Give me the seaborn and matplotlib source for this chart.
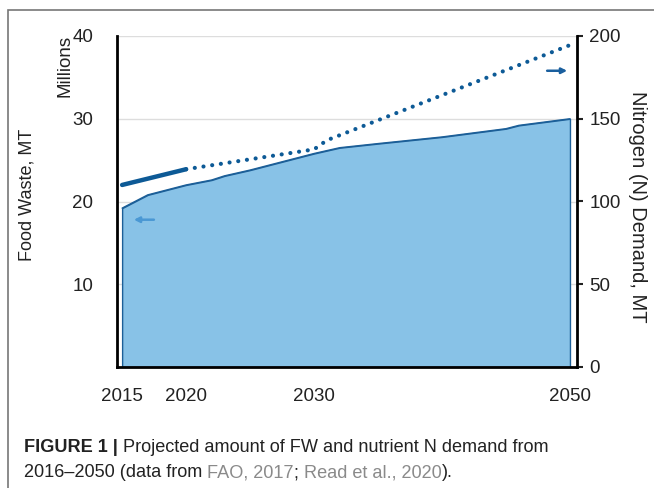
import matplotlib
matplotlib.use("Agg")
import matplotlib.pyplot as plt
import seaborn as sns
import pandas as pd
from matplotlib.patches import Rectangle

# data
fw_years = [2015, 2017, 2020, 2022, 2023, 2025, 2027, 2028, 2030, 2032, 2035, 2040, 2045, 2046, 2050]
fw_mt = [19.2, 20.8, 22.0, 22.6, 23.1, 23.8, 24.6, 25.0, 25.8, 26.5, 27.0, 27.8, 28.8, 29.2, 30.0]  # millions MT

n_hist_years = [2015, 2020]
n_hist = [110, 119.5]
n_proj_years = [2020, 2030, 2031, 2050]
n_proj = [119.5, 131.5, 137, 194.5]

x_ticks = [2015, 2020, 2030, 2050]
left_ticks = [10, 20, 30, 40]
right_ticks = [0, 50, 100, 150, 200]

fill_col = "#88c2e7"
edge_col = "#1c5f98"
line_col = "#0d5a96"
txt = "#222222"

sns.set_style("white")
plt.rcParams["font.family"] = ["Liberation Sans", "DejaVu Sans"]

fw = pd.DataFrame({"year": fw_years, "fw": fw_mt})
nh = pd.DataFrame({"year": n_hist_years, "n": n_hist})
npj = pd.DataFrame({"year": n_proj_years, "n": n_proj})

fig = plt.figure(figsize=(6.54, 4.88), dpi=100)
ax = fig.add_axes([117 / 654, 1 - 367 / 488, 460 / 654, 331 / 488])

# outer frame
fig.patches.append(Rectangle((8 / 654, -0.1), 1.2, 1 - 10 / 488 + 0.1, transform=fig.transFigure,
                             fill=False, edgecolor="#777777", linewidth=1.2))

for v in left_ticks:
    ax.axhline(v, color="#dddddd", linewidth=1, zorder=0)

ax.fill_between(fw["year"], 0, fw["fw"], color=fill_col, edgecolor=edge_col, linewidth=1.0, zorder=2)
sns.lineplot(data=fw, x="year", y="fw", ax=ax, color=edge_col, linewidth=1.0, zorder=3)

ax.set_xlim(2014.6, 2050.55)
ax.set_ylim(0, 40)
ax.set_yticks(left_ticks)
ax.set_xticks(x_ticks)
ax.tick_params(axis="both", length=0, labelsize=13.5, colors=txt)
ax.tick_params(axis="y", pad=17)
ax.tick_params(axis="x", pad=15)
ax.set_xlabel("")
ax.set_ylabel("")
for s in ["top", "right"]:
    ax.spines[s].set_visible(False)
for s in ["left", "bottom"]:
    ax.spines[s].set_color("black")
    ax.spines[s].set_linewidth(2)

ax2 = ax.twinx()
sns.lineplot(data=nh, x="year", y="n", ax=ax2, color=line_col, linewidth=3.2,
             solid_capstyle="round")
sns.lineplot(data=npj, x="year", y="n", ax=ax2, color=line_col, linewidth=3.0,
             linestyle=(0, (0.01, 2.1)), dash_capstyle="round")
ax2.set_ylim(0, 200)
ax2.set_yticks(right_ticks)
ax2.tick_params(axis="y", length=4, width=1.5, direction="out", labelsize=13.5, colors=txt, pad=5)
ax2.set_xlabel("")
ax2.set_ylabel("")
for s in ["top", "left", "bottom"]:
    ax2.spines[s].set_visible(False)
ax2.spines["right"].set_color("black")
ax2.spines["right"].set_linewidth(2)

# arrows
ax.annotate("", xy=(2015.7, 17.8), xytext=(2017.7, 17.8),
            arrowprops=dict(arrowstyle="-|>", color="#4a98d4", lw=1.8, mutation_scale=8))
ax.annotate("", xy=(2050.0, 35.8), xytext=(2048.0, 35.8),
            arrowprops=dict(arrowstyle="-|>", color="#1a5f9e", lw=1.8, mutation_scale=8))

# axis labels
fig.text(27 / 654, 1 - 195 / 488, "Food Waste, MT", rotation=90, ha="center", va="center",
         fontsize=13, color=txt)
fig.text(65 / 654, 1 - 66 / 488, "Millions", rotation=90, ha="center", va="center",
         fontsize=13.5, color=txt)
fig.text(638 / 654, 1 - 207 / 488, "Nitrogen (N) Demand, MT", rotation=270, ha="center",
         va="center", fontsize=14.5, color=txt)

# caption with mixed styles
fig.canvas.draw()
r = fig.canvas.get_renderer()


def write_line(y, parts, size=13.1):
    x = 24 / 654
    for s, w, c in parts:
        t = fig.text(x, y, s, fontsize=size, fontweight=w, color=c, ha="left", va="baseline")
        bb = t.get_window_extent(renderer=r)
        x += bb.width / fig.bbox.width


gray = "#8a8a8a"
write_line(1 - 452 / 488, [("FIGURE 1 | ", "bold", txt),
                           ("Projected amount of FW and nutrient N demand from", "normal", txt)])
write_line(1 - 477 / 488, [("2016\u20132050 (data from ", "normal", txt),
                           ("FAO, 2017", "normal", gray),
                           ("; ", "normal", txt),
                           ("Read et al., 2020", "normal", gray),
                           (").", "normal", txt)])

fig.savefig("out.png", dpi=100)
